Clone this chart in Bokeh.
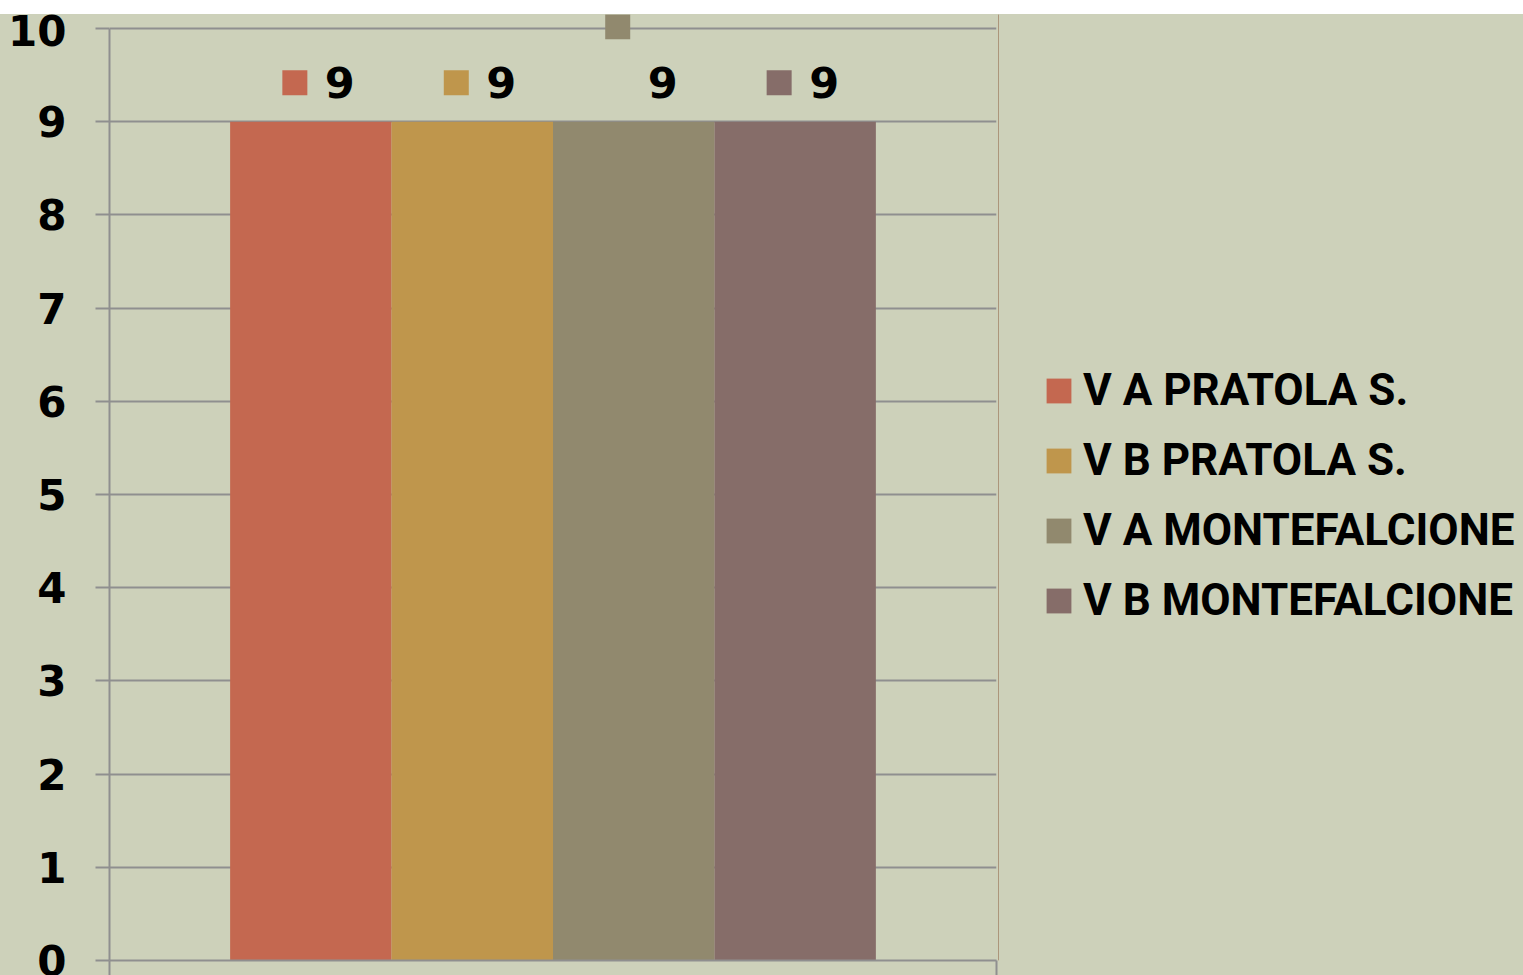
from bokeh.plotting import figure
from bokeh.models import Range1d, FixedTicker, Legend, LegendItem, Spacer
from bokeh.layouts import column, row
from bokeh.core.properties import value
from bokeh.embed import file_html
from bokeh.resources import INLINE

# ---- data ----
series = ["V A PRATOLA S.", "V B PRATOLA S.", "V A MONTEFALCIONE", "V B MONTEFALCIONE"]
values = [9, 9, 9, 9]
labels = ["9", "9", "9", "9"]
colors = ["#C46850", "#BF964C", "#91896E", "#866D69"]
y_ticks = [0, 1, 2, 3, 4, 5, 6, 7, 8, 9, 10]
y_max = 10

# ---- styling / layout ----
BG = "#CDD1BA"
GRID = "#8F8F8F"
TOP_GAP = 14
W, H = 998, 961
LW = 1523 - W
ML, MR, MT, MB = 109, 2, 0, 15
frame_w = W - ML - MR
frame_h = H - MT - MB
unit_px = 93.2
headroom = frame_h / unit_px - y_max
px_x = 1.0 / frame_w
px_y = 1.0 / unit_px
group_w = 0.728
bar_w = group_w / len(series)
marker_dy = [39, 39, 95, 39]    # data-label marker offsets (px up); third one displaced
NUM_FONT = "DejaVu Sans"

p = figure(width=W, height=H, x_range=Range1d(0, 1), y_range=Range1d(0, y_max + headroom),
           output_backend="svg", toolbar_location=None,
           min_border_left=ML, min_border_right=MR, min_border_top=MT, min_border_bottom=MB)
p.background_fill_alpha = 0
p.border_fill_color = BG
p.border_fill_alpha = 0
p.outline_line_color = None
p.xgrid.visible = False

p.xaxis.ticker = FixedTicker(ticks=[0, 1])
p.xaxis.major_label_overrides = {0: "", 1: ""}
p.xaxis.major_label_text_font_size = "1px"
p.xaxis.major_label_standoff = 0
p.xaxis.axis_line_color = GRID
p.xaxis.axis_line_width = 2
p.xaxis.major_tick_line_color = GRID
p.xaxis.major_tick_line_width = 2
p.xaxis.major_tick_in = 0
p.xaxis.major_tick_out = 15
p.xaxis.minor_tick_line_color = None

p.ygrid.grid_line_color = GRID
p.ygrid.grid_line_width = 2
p.yaxis.bounds = (0, y_max)
p.yaxis.ticker = FixedTicker(ticks=y_ticks)
p.yaxis.minor_tick_line_color = None
p.yaxis.axis_line_color = GRID
p.yaxis.axis_line_width = 2
p.yaxis.major_tick_line_color = GRID
p.yaxis.major_tick_line_width = 2
p.yaxis.major_tick_in = 0
p.yaxis.major_tick_out = 14
p.yaxis.major_label_standoff = 29
p.yaxis.major_label_text_font = NUM_FONT
p.yaxis.major_label_text_font_style = "bold"
p.yaxis.major_label_text_font_size = "42px"
p.yaxis.major_label_text_color = "black"

# legend figure
lf = figure(width=LW, height=H, x_range=Range1d(0, 1), y_range=Range1d(0, 1),
            output_backend="svg", toolbar_location=None,
            min_border_left=0, min_border_right=0, min_border_top=0, min_border_bottom=0)
lf.background_fill_alpha = 0
lf.border_fill_color = BG
lf.border_fill_alpha = 0
lf.outline_line_color = None
lf.axis.visible = False
lf.grid.visible = False

items = []
n = len(series)
for i, (name, v, lab, c) in enumerate(zip(series, values, labels, colors)):
    xc = 0.5 + (i - (n - 1) / 2) * bar_w
    p.vbar(x=[xc], top=[v], bottom=0, width=bar_w, fill_color=c, line_color=None)
    p.rect(x=[xc - 16 * px_x], y=[v + marker_dy[i] * px_y], width=25, height=25,
           width_units="screen", height_units="screen", fill_color=c, line_color=None)
    p.text(x=[xc], y=[v], text=[lab], x_offset=14, y_offset=-39,
           text_align="left", text_baseline="middle",
           text_font=value(NUM_FONT), text_font_style="bold", text_font_size="43px",
           text_color="black")
    # legend proxy (same series, placed outside the legend panel's visible range)
    lr = lf.vbar(x=[-1], top=[v], bottom=0, width=0.1, fill_color=c, line_color=None)
    items.append(LegendItem(label=name, renderers=[lr]))

legend = Legend(items=items, location=(45, 334))
legend.border_line_color = None
legend.background_fill_alpha = 0
legend.padding = 0
legend.margin = 0
legend.glyph_width = 31
legend.glyph_height = 31
legend.label_standoff = 9
legend.label_height = 52
legend.spacing = 18
legend.label_text_font = "Roboto"
legend.label_text_font_style = "bold"
legend.label_text_font_size = "44px"
legend.label_text_color = "black"
lf.add_layout(legend, "center")

layout = column(Spacer(width=1523, height=TOP_GAP),
                row(p, lf, styles={"background-color": BG}))
open("out.html", "w").write(file_html(layout, INLINE))
